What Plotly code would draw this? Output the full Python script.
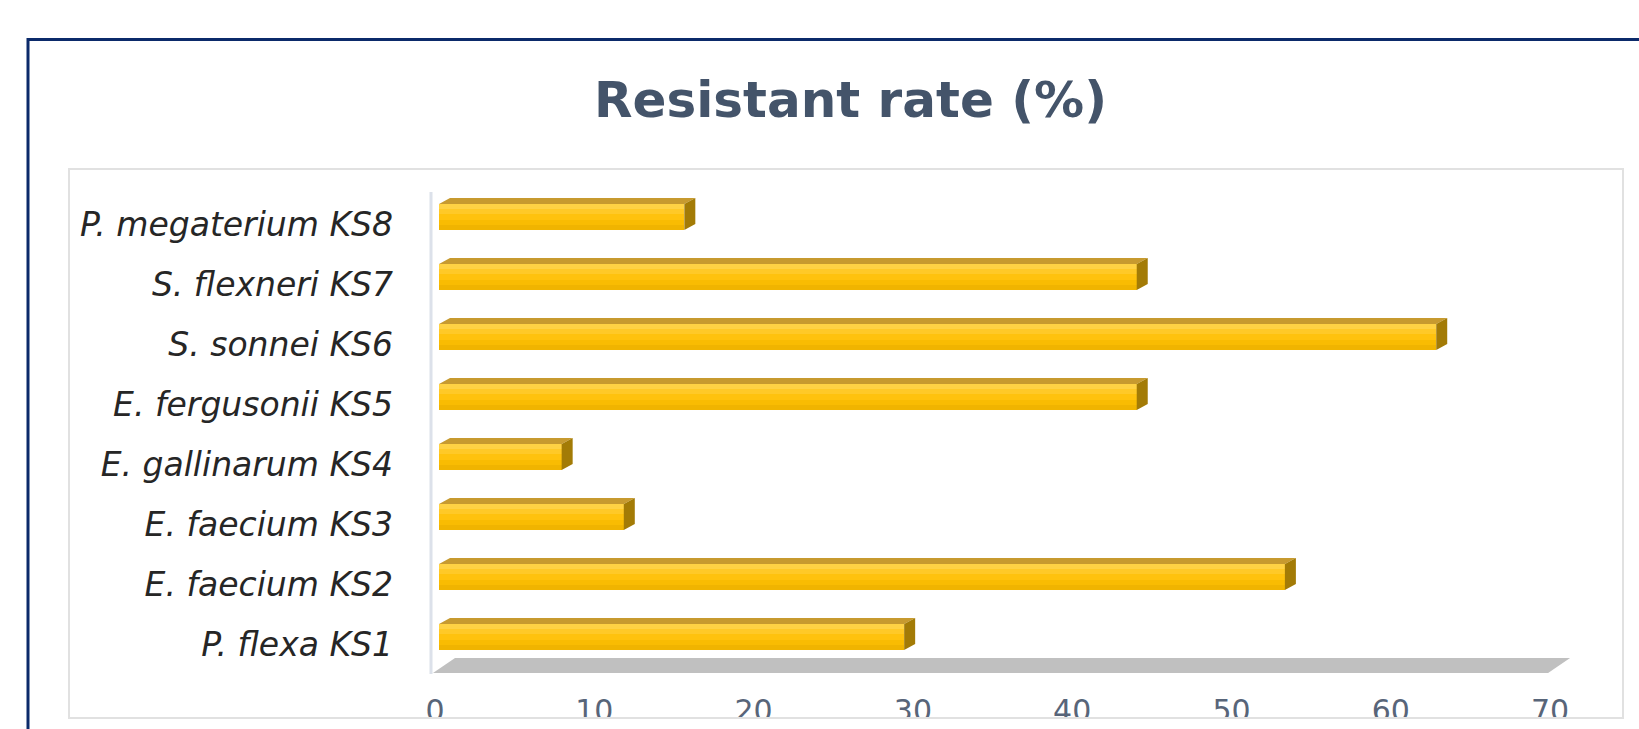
import plotly.graph_objects as go

# ---- data -------------------------------------------------------------
strains = [
    "P. flexa KS1",
    "E. faecium KS2",
    "E. faecium KS3",
    "E. gallinarum KS4",
    "E. fergusonii KS5",
    "S. sonnei KS6",
    "S. flexneri KS7",
    "P. megaterium KS8",
]
resistant_rate = [29.2, 53.1, 11.6, 7.7, 43.8, 62.6, 43.8, 15.4]
x_ticks = [0, 10, 20, 30, 40, 50, 60, 70]
chart_title = "Resistant rate (%)"

# ---- page / plot geometry (pixels) ---------------------------------------
W, H = 1639, 729
L, R, T, B = 420, 1600, 185, 680          # plot area
X0_PX, PX_PER_UNIT = 439, 15.93           # x = 0 on the bars' front face
Y0_PX, PX_PER_CAT = 637, 60               # centre of first category
X_MAX = x_ticks[-1]

x_range = [(L - X0_PX) / PX_PER_UNIT, (R - X0_PX) / PX_PER_UNIT]
y_range = [(Y0_PX - B) / PX_PER_CAT, (Y0_PX - T) / PX_PER_CAT]


def px_x(p):  # page pixel -> paper x
    return (p - L) / (R - L)


def px_y(p):  # page pixel -> paper y
    return (B - p) / (B - T)


def dx(p):  # pixel offset -> x data units
    return p / PX_PER_UNIT


def dy(p):  # pixel offset (upwards) -> y data units
    return p / PX_PER_CAT


# 3-D look of the bars
BAR_W = 26 / PX_PER_CAT
DEPTH_X, DEPTH_Y = dx(11), dy(6)
# front face shading, from top band to bottom band
FRONT_BANDS = ["#FFD244", "#FFC928", "#FFC20E", "#F9BC02", "#F0B400"]
TOP = "#C79A2F"
SIDE = "#A37B06"

# floor of the 3-D plot
FLOOR_SHIFT = dx(-6)
FLOOR_FRONT_Y = (Y0_PX - 673) / PX_PER_CAT
FLOOR_DX, FLOOR_DY = dx(22), dy(15)

y_pos = list(range(len(strains)))

fig = go.Figure()

# front faces, drawn as horizontal shading bands of each bar
band_w = BAR_W / len(FRONT_BANDS)
for i, col in enumerate(FRONT_BANDS):
    fig.add_trace(go.Bar(
        x=resistant_rate, y=y_pos, orientation="h", width=band_w * 1.02,
        offset=BAR_W / 2 - (i + 1) * band_w,
        marker=dict(color=col, line=dict(width=0)),
        hoverinfo="skip", showlegend=False,
    ))

# top faces and right side faces
top_x, top_y, side_x, side_y = [], [], [], []
for yc, v in zip(y_pos, resistant_rate):
    yt, yb = yc + BAR_W / 2, yc - BAR_W / 2
    top_x += [0, v, v + DEPTH_X, DEPTH_X, 0, None]
    top_y += [yt, yt, yt + DEPTH_Y, yt + DEPTH_Y, yt, None]
    side_x += [v, v + DEPTH_X, v + DEPTH_X, v, v, None]
    side_y += [yt, yt + DEPTH_Y, yb + DEPTH_Y, yb, yt, None]

fig.add_trace(go.Scatter(x=top_x, y=top_y, mode="lines", fill="toself",
                         fillcolor=TOP, line=dict(width=0),
                         hoverinfo="skip", showlegend=False))
fig.add_trace(go.Scatter(x=side_x, y=side_y, mode="lines", fill="toself",
                         fillcolor=SIDE, line=dict(width=0),
                         hoverinfo="skip", showlegend=False))

shapes = []
# floor
fx0, fx1 = FLOOR_SHIFT, X_MAX + FLOOR_SHIFT
fy0 = FLOOR_FRONT_Y
shapes.append(dict(
    type="path", xref="x", yref="y", layer="below",
    path=(f"M {fx0},{fy0} L {fx1},{fy0} L {fx1 + FLOOR_DX},{fy0 + FLOOR_DY} "
          f"L {fx0 + FLOOR_DX},{fy0 + FLOOR_DY} Z"),
    fillcolor="#C0C0C0", line=dict(width=0),
))
# left wall edge
shapes.append(dict(
    type="line", xref="paper", yref="paper", layer="below",
    x0=px_x(431), x1=px_x(431), y0=px_y(192), y1=px_y(674),
    line=dict(color="#DCE1EA", width=3),
))
# white strip that trims the tick labels at the chart-area border
shapes.append(dict(
    type="rect", xref="paper", yref="paper", layer="above",
    x0=px_x(68), x1=px_x(1622), y0=px_y(719), y1=px_y(735),
    fillcolor="white", line=dict(width=0),
))
# chart area border
shapes.append(dict(
    type="rect", xref="paper", yref="paper", layer="above",
    x0=px_x(69), x1=px_x(1623), y0=px_y(169), y1=px_y(718),
    line=dict(color="#E1E1E1", width=2),
))
# outer navy frame
shapes.append(dict(
    type="rect", xref="paper", yref="paper", layer="above",
    x0=px_x(28), x1=px_x(1660), y0=px_y(39.5), y1=px_y(760),
    line=dict(color="#0B2A6A", width=3),
))

fig.update_layout(
    width=W, height=H, autosize=False,
    margin=dict(l=L, r=W - R, t=T, b=H - B, pad=0),
    paper_bgcolor="white", plot_bgcolor="rgba(0,0,0,0)",
    shapes=shapes,
    barmode="overlay",
    bargap=0,
    annotations=[dict(
        text=f"<b>{chart_title}</b>", xref="paper", yref="paper",
        x=px_x(850), y=px_y(100), xanchor="center", yanchor="middle",
        showarrow=False,
        font=dict(family="DejaVu Sans", size=50, color="#44546A"),
    )],
)

fig.update_xaxes(
    range=x_range, tickvals=x_ticks, ticktext=[str(t) for t in x_ticks],
    showgrid=False, zeroline=False, showline=False, ticks="",
    automargin=False,
    ticklabelshift=-4, ticklabelstandoff=10,
    tickfont=dict(family="DejaVu Sans", size=30, color="#586579"),
    fixedrange=True,
)
fig.update_yaxes(
    range=y_range, tickvals=y_pos, ticktext=strains,
    showgrid=False, zeroline=False, showline=False, ticks="",
    automargin=False,
    ticklabelstandoff=26, ticklabelshift=7,
    tickfont=dict(family="DejaVu Sans", size=33, color="#262626", style="italic"),
    fixedrange=True,
)

fig.write_html("out.html", config=dict(displayModeBar=False))
